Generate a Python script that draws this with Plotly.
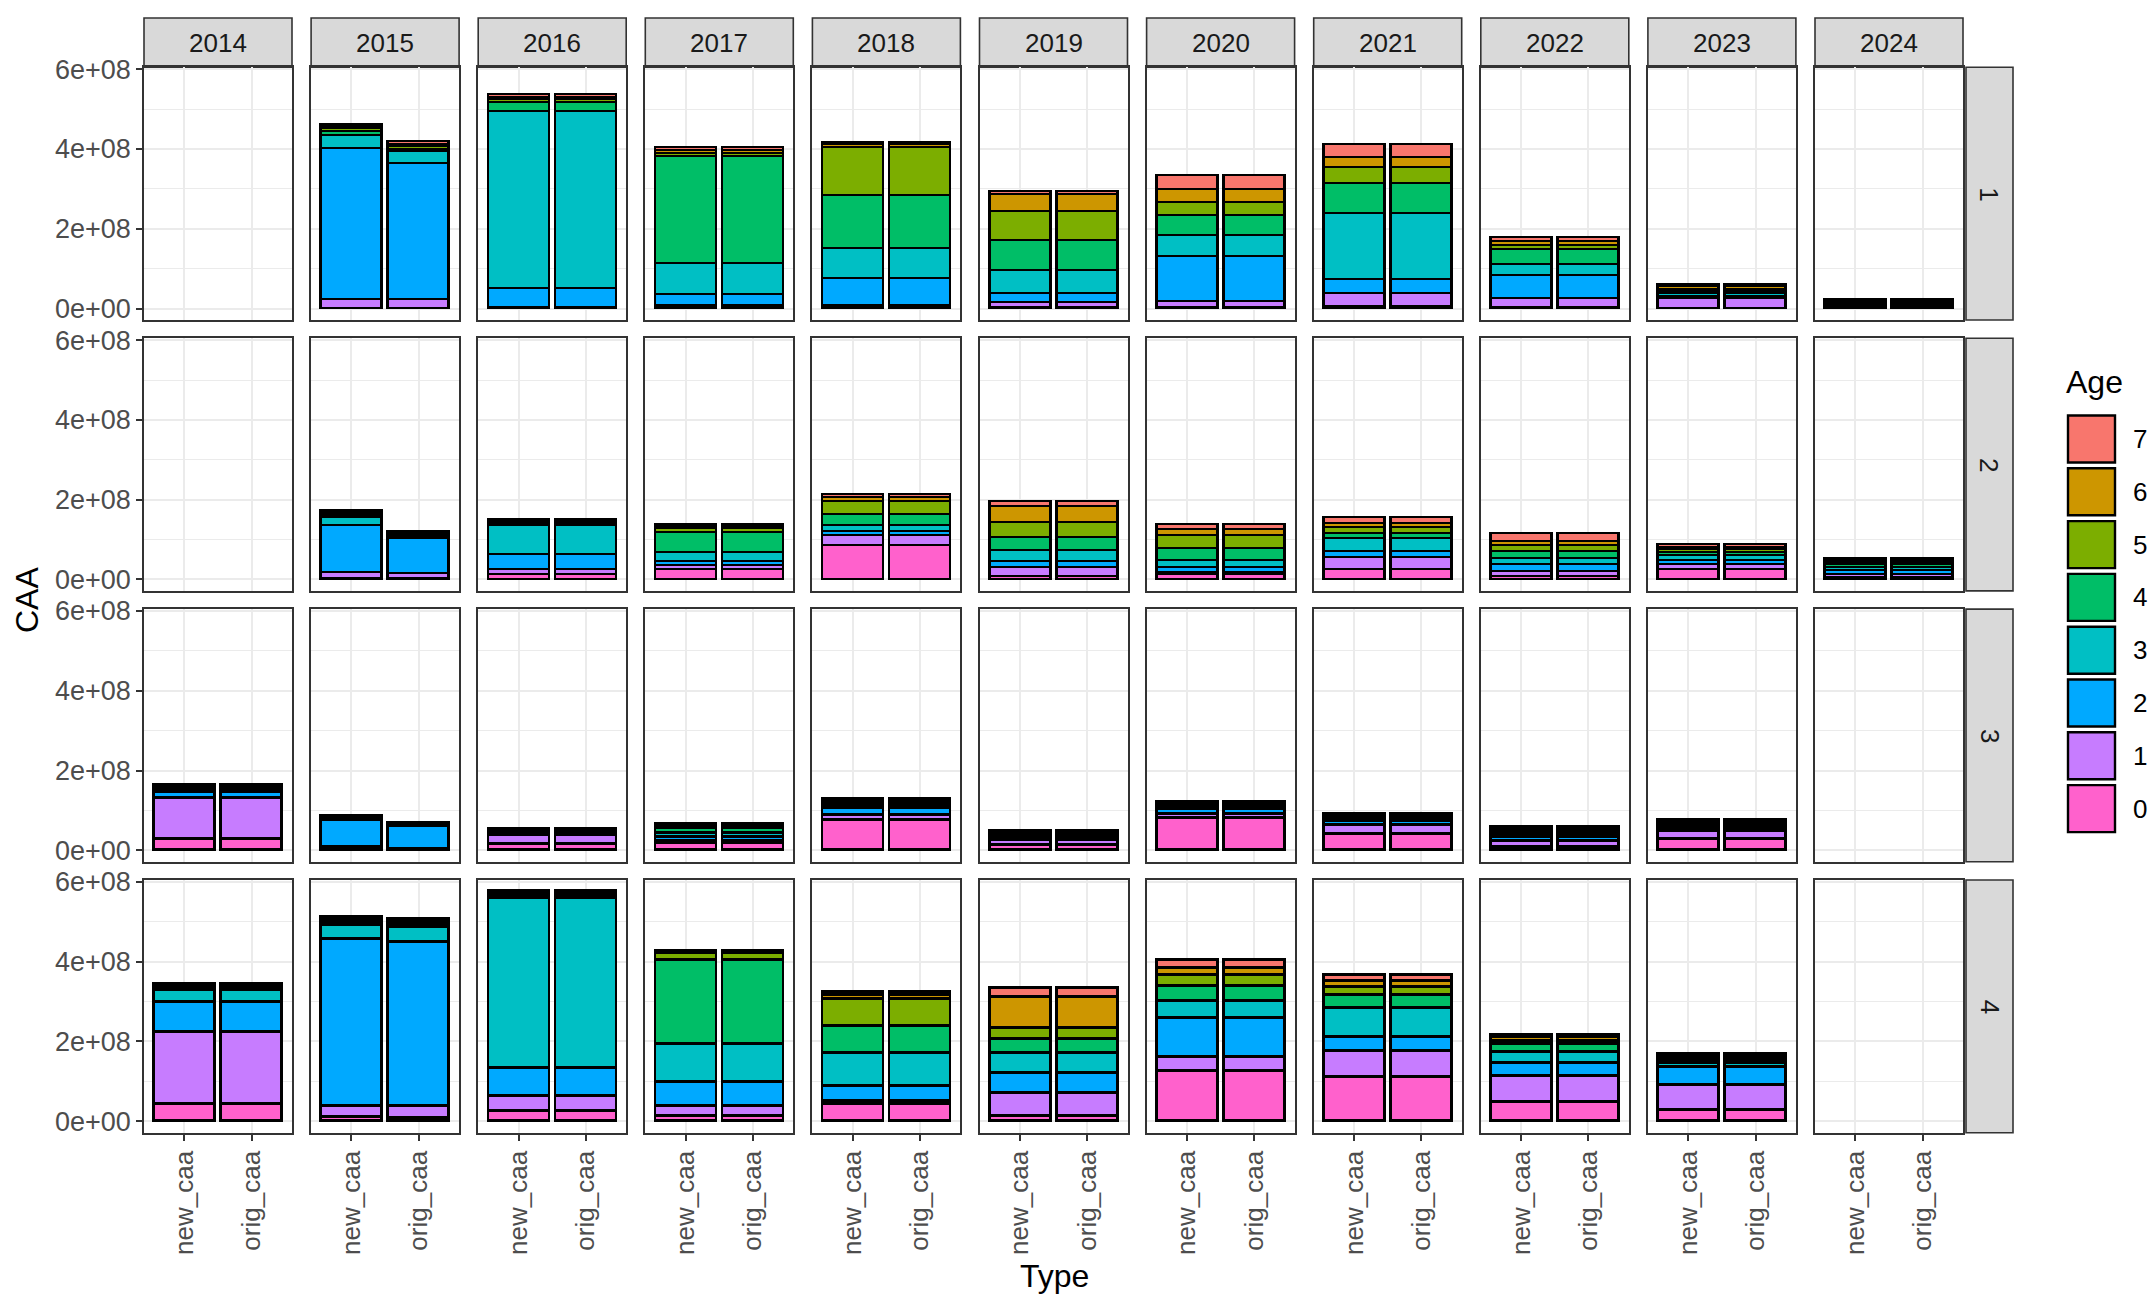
import plotly.graph_objects as go

# ---- data -------------------------------------------------------------
years = [2014, 2015, 2016, 2017, 2018, 2019, 2020, 2021, 2022, 2023, 2024]
quarters = [1, 2, 3, 4]
types = ["new_caa", "orig_caa"]
ages = [0, 1, 2, 3, 4, 5, 6, 7]
age_colors = ["#FF61CC", "#C77CFF", "#00A9FF", "#00BFC4",
              "#00BE67", "#7CAE00", "#CD9600", "#F8766D"]
y_ticks = [0, 2e8, 4e8, 6e8]
y_tick_text = ["0e+00", "2e+08", "4e+08", "6e+08"]

# catch at age (units of 1e8), one list per year with ages 0..7; None = no data
q1_new = [
    None,
    [0.01, 0.23, 3.77, 0.34, 0.09, 0.07, 0.06, 0.06],
    [0.01, 0.02, 0.47, 4.44, 0.22, 0.08, 0.06, 0.06],
    [0.02, 0.05, 0.29, 0.78, 2.68, 0.07, 0.07, 0.07],
    [0.03, 0.05, 0.69, 0.73, 1.33, 1.22, 0.06, 0.06],
    [0.02, 0.14, 0.23, 0.57, 0.74, 0.73, 0.44, 0.06],
    [0.02, 0.17, 1.11, 0.54, 0.50, 0.33, 0.33, 0.33],
    [0.06, 0.32, 0.36, 1.64, 0.77, 0.40, 0.23, 0.35],
    [0.02, 0.23, 0.58, 0.29, 0.36, 0.10, 0.10, 0.10],
    [0.01, 0.24, 0.06, 0.06, 0.06, 0.06, 0.06, 0.06],
    [0.02, 0.03, 0.03, 0.03, 0.03, 0.03, 0.03, 0.02],
]
q2_new = [
    None,
    [0.02, 0.17, 1.17, 0.20, 0.05, 0.04, 0.04, 0.04],
    [0.12, 0.14, 0.36, 0.73, 0.05, 0.04, 0.04, 0.04],
    [0.25, 0.11, 0.10, 0.21, 0.52, 0.10, 0.05, 0.05],
    [0.86, 0.24, 0.11, 0.15, 0.28, 0.33, 0.10, 0.07],
    [0.08, 0.23, 0.14, 0.29, 0.32, 0.38, 0.39, 0.14],
    [0.12, 0.06, 0.13, 0.18, 0.29, 0.33, 0.14, 0.14],
    [0.25, 0.31, 0.15, 0.32, 0.14, 0.14, 0.11, 0.13],
    [0.08, 0.12, 0.17, 0.15, 0.20, 0.13, 0.12, 0.18],
    [0.25, 0.14, 0.10, 0.12, 0.07, 0.07, 0.07, 0.06],
    [0.05, 0.09, 0.10, 0.07, 0.06, 0.05, 0.05, 0.05],
]
q3_new = [
    [0.27, 1.04, 0.15, 0.05, 0.04, 0.03, 0.03, 0.03],
    [0.04, 0.04, 0.68, 0.03, 0.02, 0.02, 0.02, 0.02],
    [0.16, 0.22, 0.04, 0.03, 0.03, 0.02, 0.02, 0.02],
    [0.18, 0.06, 0.10, 0.10, 0.11, 0.04, 0.04, 0.03],
    [0.77, 0.12, 0.17, 0.06, 0.05, 0.04, 0.04, 0.03],
    [0.12, 0.14, 0.05, 0.04, 0.04, 0.04, 0.03, 0.03],
    [0.82, 0.08, 0.13, 0.04, 0.04, 0.03, 0.03, 0.03],
    [0.41, 0.22, 0.10, 0.05, 0.04, 0.04, 0.03, 0.03],
    [0.08, 0.16, 0.08, 0.06, 0.05, 0.05, 0.05, 0.04],
    [0.28, 0.19, 0.08, 0.05, 0.04, 0.04, 0.04, 0.04],
    None,
]
q4_new = [
    [0.42, 1.82, 0.74, 0.32, 0.05, 0.04, 0.03, 0.03],
    [0.10, 0.29, 4.17, 0.37, 0.06, 0.04, 0.04, 0.04],
    [0.25, 0.37, 0.71, 4.26, 0.05, 0.04, 0.04, 0.04],
    [0.14, 0.25, 0.59, 0.96, 2.10, 0.17, 0.03, 0.03],
    [0.43, 0.07, 0.38, 0.83, 0.68, 0.68, 0.09, 0.08],
    [0.12, 0.58, 0.50, 0.52, 0.33, 0.29, 0.78, 0.21],
    [1.27, 0.33, 1.00, 0.42, 0.38, 0.27, 0.18, 0.19],
    [1.10, 0.65, 0.36, 0.74, 0.32, 0.19, 0.16, 0.15],
    [0.48, 0.65, 0.33, 0.27, 0.21, 0.08, 0.08, 0.07],
    [0.29, 0.63, 0.44, 0.09, 0.06, 0.06, 0.06, 0.06],
    None,
]
# orig_caa is identical to new_caa except for 2015
orig_2015_q1 = [0.01, 0.22, 3.41, 0.29, 0.07, 0.07, 0.06, 0.06]
orig_2015_q2 = [0.02, 0.14, 0.88, 0.05, 0.04, 0.03, 0.03, 0.02]
orig_2015_q3 = [0.02, 0.02, 0.56, 0.02, 0.02, 0.02, 0.01, 0.01]
orig_2015_q4 = [0.08, 0.31, 4.11, 0.37, 0.06, 0.05, 0.04, 0.04]

UNIT = 1e8
new_by_q = {1: q1_new, 2: q2_new, 3: q3_new, 4: q4_new}
orig_2015 = {1: orig_2015_q1, 2: orig_2015_q2, 3: orig_2015_q3, 4: orig_2015_q4}


def orig_values(q, yi):
    if years[yi] == 2015:
        return orig_2015[q]
    return new_by_q[q][yi]


# ---- geometry (pixels) -----------------------------------------------
W, H = 2151, 1294
COL_L0, COL_STEP, COL_W = 144.0, 167.1, 148.0
ROW_T0, ROW_STEP, ROW_H = 67.3, 270.9, 252.7
STRIP_TOP = 18.0
RSTRIP_L, RSTRIP_R = 1966.0, 2013.0

FONT = "Liberation Sans, Arial, sans-serif"
GRID = "#EBEBEB"
BORDER = "#333333"


def px_x(x):
    return x / W


def px_y(y):
    return 1 - y / H


# shared y scale with ggplot-like 5% expansion
totals = []
for q in quarters:
    for yi in range(len(years)):
        for vals in (new_by_q[q][yi], orig_values(q, yi)):
            if vals is not None:
                totals.append(sum(vals) * UNIT)
ymax = max(totals)
y_range = [-0.05 * ymax, 1.05 * ymax]

fig = go.Figure()
layout_axes = {}
shapes = []
annotations = []

for ri, q in enumerate(quarters):
    top = ROW_T0 + ri * ROW_STEP
    bot = top + ROW_H
    for ci, yr in enumerate(years):
        k = ri * len(years) + ci + 1
        xa = "x" if k == 1 else f"x{k}"
        ya = "y" if k == 1 else f"y{k}"
        left = COL_L0 + ci * COL_STEP
        right = left + COL_W

        new_vals = new_by_q[q][ci]
        orig_vals = orig_values(q, ci)
        if new_vals is None:
            fig.add_trace(go.Scatter(
                x=types, y=[0, 0], mode="markers",
                marker=dict(opacity=0), hoverinfo="skip",
                showlegend=False, xaxis=xa, yaxis=ya))
        else:
            for a in ages:
                fig.add_trace(go.Bar(
                    x=types,
                    y=[new_vals[a] * UNIT, orig_vals[a] * UNIT],
                    width=0.9,
                    marker=dict(color=age_colors[a],
                                line=dict(color="black", width=2.7)),
                    name=str(a), showlegend=False,
                    xaxis=xa, yaxis=ya))

        bottom_row = ri == len(quarters) - 1
        first_col = ci == 0
        layout_axes["xaxis" if k == 1 else f"xaxis{k}"] = dict(
            domain=[px_x(left), px_x(right)], anchor=ya, automargin=False,
            type="category", categoryorder="array", categoryarray=types,
            range=[-0.6, 1.6], showgrid=True, gridcolor=GRID, gridwidth=2.4,
            showline=True, mirror=True, linecolor=BORDER, linewidth=1.6,
            zeroline=False, fixedrange=True,
            showticklabels=bottom_row, tickangle=-90,
            ticks="outside" if bottom_row else "", ticklen=6,
            tickcolor=BORDER, tickwidth=1.6,
            tickfont=dict(family=FONT, size=26, color="#4D4D4D"),
        )
        layout_axes["yaxis" if k == 1 else f"yaxis{k}"] = dict(
            domain=[px_y(bot), px_y(top)], anchor=xa, automargin=False,
            range=y_range, tickmode="array", tickvals=y_ticks,
            ticktext=y_tick_text, showgrid=True, gridcolor=GRID,
            gridwidth=2.4, zeroline=False,
            minor=dict(tickmode="array", tickvals=[1e8, 3e8, 5e8],
                       showgrid=True, gridcolor=GRID, gridwidth=1.3),
            showline=True, mirror=True, linecolor=BORDER, linewidth=1.6,
            fixedrange=True, showticklabels=first_col,
            ticks="outside" if first_col else "", ticklen=6,
            tickcolor=BORDER, tickwidth=1.6,
            tickfont=dict(family=FONT, size=27, color="#4D4D4D"),
        )

        # year strips across the top row
        if ri == 0:
            shapes.append(dict(
                type="rect", xref="paper", yref="paper",
                x0=px_x(left), x1=px_x(right),
                y0=px_y(top), y1=px_y(STRIP_TOP),
                fillcolor="#D9D9D9", line=dict(color=BORDER, width=1.6),
                layer="below"))
            annotations.append(dict(
                x=px_x((left + right) / 2), y=px_y((STRIP_TOP + top) / 2),
                xref="paper", yref="paper", text=str(yr), showarrow=False,
                font=dict(family=FONT, size=26, color="#1A1A1A"),
                xanchor="center", yanchor="middle"))

    # quarter strips on the right
    shapes.append(dict(
        type="rect", xref="paper", yref="paper",
        x0=px_x(RSTRIP_L), x1=px_x(RSTRIP_R),
        y0=px_y(bot), y1=px_y(top),
        fillcolor="#D9D9D9", line=dict(color=BORDER, width=1.6),
        layer="below"))
    annotations.append(dict(
        x=px_x((RSTRIP_L + RSTRIP_R) / 2), y=px_y((top + bot) / 2),
        xref="paper", yref="paper", text=str(q), showarrow=False,
        textangle=90, font=dict(family=FONT, size=26, color="#1A1A1A"),
        xanchor="center", yanchor="middle"))

# axis titles
annotations.append(dict(
    x=px_x(27), y=px_y(600), xref="paper", yref="paper", text="CAA",
    showarrow=False, textangle=-90,
    font=dict(family=FONT, size=32, color="black"),
    xanchor="center", yanchor="middle"))
annotations.append(dict(
    x=px_x(1054), y=px_y(1276), xref="paper", yref="paper", text="Type",
    showarrow=False, font=dict(family=FONT, size=32, color="black"),
    xanchor="center", yanchor="middle"))

# legend for Age (7 on top down to 0)
annotations.append(dict(
    x=px_x(2064), y=px_y(382), xref="paper", yref="paper", text="Age",
    showarrow=False, font=dict(family=FONT, size=32, color="black"),
    xanchor="left", yanchor="middle"))
KEY_X0, KEY_X1 = 2068.0, 2115.0
KEY_Y0, KEY_STEP, KEY_H = 439.0, 52.8, 47.0
for i, a in enumerate(reversed(ages)):
    cy = KEY_Y0 + i * KEY_STEP
    shapes.append(dict(
        type="rect", xref="paper", yref="paper",
        x0=px_x(KEY_X0), x1=px_x(KEY_X1),
        y0=px_y(cy + KEY_H / 2), y1=px_y(cy - KEY_H / 2),
        fillcolor=age_colors[a], line=dict(color="black", width=2.4)))
    annotations.append(dict(
        x=px_x(2131), y=px_y(cy), xref="paper", yref="paper", text=str(a),
        showarrow=False, font=dict(family=FONT, size=26, color="black"),
        xanchor="left", yanchor="middle"))

fig.update_layout(
    width=W, height=H, autosize=False,
    margin=dict(l=0, r=0, t=0, b=0, autoexpand=False),
    paper_bgcolor="white", plot_bgcolor="white",
    barmode="stack", bargap=0, showlegend=False,
    shapes=shapes, annotations=annotations,
    font=dict(family=FONT),
    **layout_axes,
)

fig.write_html("out.html")
